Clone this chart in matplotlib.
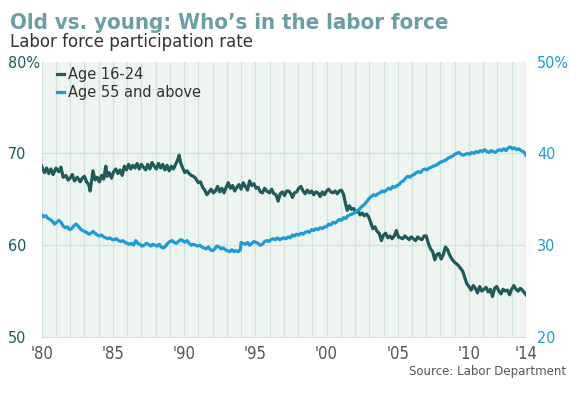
import matplotlib
matplotlib.use("Agg")
import matplotlib.pyplot as plt
from matplotlib import font_manager

# Age 16-24 participation rate (left axis, %)
years_young = [
    1980.0, 1980.2, 1980.35, 1980.5, 1980.65, 1980.8, 1981.0, 1981.2, 1981.35, 1981.5,
    1981.7, 1981.85, 1982.0, 1982.15, 1982.3, 1982.5, 1982.7, 1982.85, 1983.0, 1983.15,
    1983.3, 1983.4, 1983.5, 1983.6, 1983.75, 1983.9, 1984.05, 1984.2, 1984.35, 1984.5,
    1984.6, 1984.75, 1984.9, 1985.05, 1985.2, 1985.35, 1985.5, 1985.65, 1985.8, 1985.95,
    1986.1, 1986.25, 1986.4, 1986.55, 1986.7, 1986.85, 1987.0, 1987.15, 1987.3, 1987.45,
    1987.6, 1987.75, 1987.9, 1988.05, 1988.2, 1988.35, 1988.5, 1988.65, 1988.8, 1988.95,
    1989.1, 1989.25, 1989.4, 1989.55, 1989.65, 1989.75, 1989.9, 1990.05, 1990.2, 1990.35,
    1990.5, 1990.65, 1990.8, 1991.0, 1991.15, 1991.3, 1991.45, 1991.6, 1991.75, 1991.9,
    1992.05, 1992.2, 1992.35, 1992.5, 1992.65, 1992.8, 1992.95, 1993.1, 1993.25, 1993.4,
    1993.55, 1993.7, 1993.85, 1994.0, 1994.15, 1994.3, 1994.45, 1994.6, 1994.75, 1994.9,
    1995.05, 1995.2, 1995.35, 1995.5, 1995.65, 1995.8, 1996.0, 1996.15, 1996.3, 1996.45,
    1996.6, 1996.75, 1996.9, 1997.05, 1997.2, 1997.35, 1997.5, 1997.6, 1997.75, 1997.9,
    1998.05, 1998.2, 1998.35, 1998.5, 1998.65, 1998.8, 1998.95, 1999.1, 1999.25, 1999.4,
    1999.55, 1999.7, 1999.85, 2000.0, 2000.15, 2000.3, 2000.45, 2000.6, 2000.75, 2000.9,
    2001.05, 2001.2, 2001.35, 2001.45, 2001.6, 2001.75, 2001.9, 2002.05, 2002.2, 2002.35,
    2002.5, 2002.65, 2002.8, 2002.95, 2003.1, 2003.25, 2003.4, 2003.55, 2003.7, 2003.85,
    2004.0, 2004.15, 2004.3, 2004.45, 2004.6, 2004.75, 2004.9, 2005.05, 2005.2, 2005.35,
    2005.5, 2005.65, 2005.8, 2005.95, 2006.1, 2006.25, 2006.4, 2006.55, 2006.7, 2006.85,
    2007.0, 2007.15, 2007.3, 2007.45, 2007.6, 2007.75, 2007.9, 2008.05, 2008.2, 2008.35,
    2008.5, 2008.65, 2008.8, 2008.95, 2009.1, 2009.25, 2009.4, 2009.55, 2009.7, 2009.85,
    2010.0, 2010.15, 2010.3, 2010.45, 2010.6, 2010.75, 2010.9, 2011.05, 2011.2, 2011.35,
    2011.5, 2011.65, 2011.8, 2011.95, 2012.1, 2012.25, 2012.4, 2012.55, 2012.7, 2012.85,
    2013.0, 2013.15, 2013.3, 2013.45, 2013.6, 2013.75, 2013.9, 2014.0,
]
rate_young = [
    68.6, 67.9, 68.4, 67.8, 68.3, 67.7, 68.4, 68.0, 68.5, 67.4,
    67.6, 67.1, 67.3, 67.7, 67.0, 67.4, 66.9, 67.3, 67.5, 66.9,
    66.6, 65.9, 67.0, 68.1, 67.1, 67.4, 66.9, 67.6, 67.2, 68.6,
    67.5, 67.9, 67.3, 68.0, 68.3, 67.8, 68.2, 67.6, 68.6, 68.2,
    68.8, 68.3, 68.7, 68.4, 68.9, 68.3, 68.8, 68.5, 68.2, 68.8,
    68.3, 69.0, 68.6, 68.3, 68.9, 68.4, 68.8, 68.2, 68.7, 68.1,
    68.6, 68.3, 68.8, 69.3, 69.8, 69.0, 68.4, 67.9, 68.1, 67.8,
    67.6, 67.5, 67.3, 66.8, 66.9, 66.3, 66.0, 65.5, 65.8, 66.1,
    65.7, 65.9, 66.4, 65.8, 66.2, 65.7, 66.3, 66.8, 66.2, 66.5,
    65.9, 66.3, 66.6, 66.1, 66.8, 66.4, 66.0, 67.0, 66.5, 66.7,
    66.2, 66.3, 65.8, 65.7, 66.2, 65.9, 65.7, 66.1, 65.6, 65.5,
    64.8, 65.6, 65.8, 65.4, 65.9, 65.9, 65.6, 65.2, 65.7, 65.8,
    66.2, 66.4, 65.9, 65.6, 66.0, 65.7, 65.9, 65.5, 65.8, 65.7,
    65.3, 65.8, 65.5, 65.9, 66.1, 65.8, 65.7, 65.9, 65.6, 65.9,
    66.0, 65.5, 64.4, 63.8, 64.3, 63.9, 64.0, 63.6, 63.8, 63.3,
    63.5, 63.2, 63.4, 63.1, 62.5, 61.8, 62.0, 61.5, 61.3, 60.5,
    61.1, 61.3, 60.8, 61.0, 60.7, 61.0, 61.6, 60.9, 60.8, 60.7,
    61.0, 60.8, 60.6, 60.9, 60.7, 60.5, 60.9, 60.7, 60.6, 61.0,
    61.0, 60.2, 59.6, 59.3, 58.4, 59.0, 59.1, 58.5, 59.0, 59.8,
    59.5, 58.9, 58.5, 58.2, 58.0, 57.8, 57.5, 57.2, 56.5, 55.8,
    55.5, 55.1, 55.6, 55.3, 54.8, 55.5, 55.0, 55.2, 55.4, 54.9,
    55.2, 54.4, 55.3, 55.5, 55.0, 54.7, 55.2, 55.0, 55.1, 54.6,
    55.2, 55.6, 55.2, 55.0, 55.3, 55.1, 54.8, 54.6,
]

# Age 55 and above participation rate (right axis, %)
years_old = [
    1980.0, 1980.15, 1980.3, 1980.45, 1980.6, 1980.75, 1980.9, 1981.05, 1981.2, 1981.35,
    1981.5, 1981.65, 1981.8, 1981.95, 1982.1, 1982.25, 1982.4, 1982.55, 1982.7, 1982.85,
    1983.0, 1983.15, 1983.3, 1983.45, 1983.6, 1983.75, 1983.9, 1984.05, 1984.2, 1984.35,
    1984.5, 1984.65, 1984.8, 1984.95, 1985.1, 1985.25, 1985.4, 1985.55, 1985.7, 1985.85,
    1986.0, 1986.15, 1986.3, 1986.45, 1986.6, 1986.75, 1986.9, 1987.05, 1987.2, 1987.35,
    1987.5, 1987.65, 1987.8, 1987.95, 1988.1, 1988.25, 1988.4, 1988.55, 1988.7, 1988.85,
    1989.0, 1989.15, 1989.3, 1989.45, 1989.6, 1989.75, 1989.9, 1990.05, 1990.2, 1990.35,
    1990.5, 1990.65, 1990.8, 1990.95, 1991.1, 1991.25, 1991.4, 1991.55, 1991.7, 1991.85,
    1992.0, 1992.15, 1992.3, 1992.45, 1992.6, 1992.75, 1992.9, 1993.05, 1993.2, 1993.35,
    1993.5, 1993.65, 1993.8, 1993.95, 1994.0, 1994.15, 1994.3, 1994.45, 1994.6, 1994.75,
    1994.9, 1995.05, 1995.2, 1995.35, 1995.5, 1995.65, 1995.8, 1995.95, 1996.1, 1996.25,
    1996.4, 1996.55, 1996.7, 1996.85, 1997.0, 1997.15, 1997.3, 1997.45, 1997.6, 1997.75,
    1997.9, 1998.05, 1998.2, 1998.35, 1998.5, 1998.65, 1998.8, 1998.95, 1999.1, 1999.25,
    1999.4, 1999.55, 1999.7, 1999.85, 2000.0, 2000.15, 2000.3, 2000.45, 2000.6, 2000.75,
    2000.9, 2001.05, 2001.2, 2001.35, 2001.5, 2001.65, 2001.8, 2001.95, 2002.1, 2002.25,
    2002.4, 2002.55, 2002.7, 2002.85, 2003.0, 2003.15, 2003.3, 2003.45, 2003.6, 2003.75,
    2003.9, 2004.05, 2004.2, 2004.35, 2004.5, 2004.65, 2004.8, 2004.95, 2005.1, 2005.25,
    2005.4, 2005.55, 2005.7, 2005.85, 2006.0, 2006.15, 2006.3, 2006.45, 2006.6, 2006.75,
    2006.9, 2007.05, 2007.2, 2007.35, 2007.5, 2007.65, 2007.8, 2007.95, 2008.1, 2008.25,
    2008.4, 2008.55, 2008.7, 2008.85, 2009.0, 2009.15, 2009.3, 2009.45, 2009.6, 2009.75,
    2009.9, 2010.05, 2010.2, 2010.35, 2010.5, 2010.65, 2010.8, 2010.95, 2011.1, 2011.25,
    2011.4, 2011.55, 2011.7, 2011.85, 2012.0, 2012.15, 2012.3, 2012.45, 2012.6, 2012.75,
    2012.9, 2013.05, 2013.2, 2013.35, 2013.5, 2013.65, 2013.8, 2013.95, 2014.0,
]
rate_old = [
    33.3, 33.1, 33.2, 32.9, 32.8, 32.6, 32.3, 32.5, 32.7, 32.5,
    32.1, 31.9, 32.0, 31.7, 31.8, 32.1, 32.3, 32.1, 31.8, 31.6,
    31.5, 31.4, 31.2, 31.3, 31.5, 31.3, 31.1, 31.0, 31.1, 30.9,
    30.8, 30.7, 30.8, 30.6, 30.6, 30.7, 30.5, 30.4, 30.5, 30.3,
    30.2, 30.1, 30.2, 30.0, 30.5, 30.2, 30.1, 29.9, 30.0, 30.2,
    30.1, 29.9, 30.1, 30.0, 29.9, 30.1, 29.8, 29.7, 29.9, 30.2,
    30.4, 30.5, 30.3, 30.2, 30.4, 30.6, 30.5, 30.3, 30.5, 30.2,
    30.0, 30.1, 30.0, 29.9, 30.0, 29.8, 29.7, 29.6, 29.8, 29.5,
    29.4, 29.6, 29.9, 29.8, 29.6, 29.7, 29.5, 29.4, 29.3, 29.5,
    29.3, 29.4, 29.3, 29.5, 30.3, 30.2, 30.1, 30.3, 30.0, 30.2,
    30.4, 30.3, 30.2, 30.0, 30.1, 30.4, 30.5, 30.4, 30.6, 30.7,
    30.6, 30.8, 30.6, 30.7, 30.8, 30.7, 30.9, 30.8, 31.1, 31.0,
    31.2, 31.1, 31.3, 31.2, 31.4, 31.5, 31.4, 31.7, 31.6, 31.8,
    31.7, 31.9, 31.8, 32.0, 32.0, 32.3, 32.2, 32.5, 32.4, 32.6,
    32.8, 32.7, 33.0, 32.9, 33.2, 33.3, 33.4, 33.5, 33.7, 33.8,
    34.1, 34.3, 34.5, 34.8, 35.1, 35.3, 35.5, 35.4, 35.6, 35.7,
    35.9, 35.8, 36.0, 36.2, 36.1, 36.4, 36.3, 36.5, 36.6, 36.9,
    37.0, 37.3, 37.5, 37.4, 37.6, 37.7, 37.9, 38.0, 37.9, 38.2,
    38.3, 38.2, 38.4, 38.5, 38.6, 38.7, 38.8, 39.0, 39.1, 39.2,
    39.3, 39.5, 39.6, 39.7, 39.9, 40.0, 40.1, 39.9, 39.8, 39.9,
    40.0, 39.9, 40.1, 40.0, 40.2, 40.1, 40.3, 40.2, 40.4, 40.2,
    40.1, 40.3, 40.2, 40.1, 40.3, 40.4, 40.3, 40.5, 40.3, 40.6,
    40.7, 40.5, 40.6, 40.4, 40.5, 40.3, 40.2, 40.0, 39.8,
]

left_ticks = [50, 60, 70, 80]
left_labels = ["50", "60", "70", "80%"]
right_ticks = [20, 30, 40, 50]
right_labels = ["20", "30", "40", "50%"]
x_ticks = [1980, 1985, 1990, 1995, 2000, 2005, 2010, 2014]
x_labels = ["'80", "'85", "'90", "'95", "'00", "'05", "'10", "'14"]

DARK = "#1f5b5b"
BLUE = "#1b9bd7"
BG = "#eef5f0"
GRID = "#d2e3de"


def find_condensed(bold):
    # look for a condensed / narrow face among installed fonts
    for f in font_manager.fontManager.ttflist:
        fname = f.fname.lower()
        if "condensed" in fname or "narrow" in fname or f.stretch in ("condensed", "semi-condensed"):
            is_bold = "bold" in fname or f.weight in ("bold", 700)
            if is_bold == bold and "oblique" not in fname and "italic" not in fname:
                return font_manager.FontProperties(fname=f.fname)
    return None


cond_bold = find_condensed(True)
cond_reg = find_condensed(False)

fig = plt.figure(figsize=(5.69, 3.98), dpi=100)
ax = fig.add_axes([0.0733, 0.1533, 0.851, 0.692])
ax2 = ax.twinx()

ax.set_facecolor(BG)
for yr in range(1980, 2015):
    ax.axvline(yr, color=GRID, lw=0.9, zorder=0)
for v in [60, 70]:
    ax.axhline(v, color=GRID, lw=0.9, zorder=0)

ax.plot(years_young, rate_young, color=DARK, lw=2.3, label="Age 16-24", zorder=3)
ax2.plot(years_old, rate_old, color=BLUE, lw=2.3, label="Age 55 and above", zorder=3)

ax.set_xlim(1980, 2014)
ax.set_ylim(50, 80)
ax2.set_ylim(20, 50)

for a in (ax, ax2):
    for s in a.spines.values():
        s.set_visible(False)
ax.spines["bottom"].set_visible(True)
ax.spines["bottom"].set_color(GRID)

tick_font = dict(fontproperties=cond_reg) if cond_reg else dict(family="DejaVu Sans")

ax.set_xticks(x_ticks)
ax.set_xticklabels(x_labels, color="#555555", **tick_font)
ax.tick_params(axis="x", length=0, pad=6)

ax.set_yticks(left_ticks)
ax.set_yticklabels(left_labels, color=DARK, **tick_font)
ax.tick_params(axis="y", length=0, pad=24)
for t in ax.get_yticklabels():
    t.set_horizontalalignment("left")

ax2.set_yticks(right_ticks)
ax2.set_yticklabels(right_labels, color=BLUE, **tick_font)
ax2.tick_params(axis="y", length=0, pad=8)

for t in ax.get_xticklabels():
    t.set_fontsize(12 if cond_reg else 10.5)
for t in ax.get_yticklabels() + ax2.get_yticklabels():
    t.set_fontsize(11.5 if cond_reg else 10)

h1, l1 = ax.get_legend_handles_labels()
h2, l2 = ax2.get_legend_handles_labels()
leg = ax2.legend(h1 + h2, l1 + l2, loc="upper left", bbox_to_anchor=(0.012, 1.015),
                 frameon=False, fontsize=10.5, handlelength=0.45, handletextpad=0.3,
                 labelspacing=0.2, borderaxespad=0.25)
for t in leg.get_texts():
    t.set_color("#333333")

title_kw = dict(color="#6a9fa3", va="baseline")
if cond_bold:
    title = fig.text(0.018, 0.928, "Old vs. young: Who\u2019s in the labor force",
                     fontproperties=cond_bold, **title_kw)
else:
    title = fig.text(0.018, 0.928, "Old vs. young: Who\u2019s in the labor force",
                     fontweight="bold", **title_kw)
title.set_fontsize(18)
# fit the title to the reference width (~440 px)
fig.canvas.draw()
w = title.get_window_extent().width
title.set_fontsize(18 * 440.0 / w)

fig.text(0.018, 0.881, "Labor force participation rate", fontsize=12,
         color="#333333", va="baseline")
fig.text(0.995, 0.058, "Source: Labor Department", fontsize=8.5,
         color="#555555", ha="right", va="baseline")

fig.savefig("out.png", dpi=100)
